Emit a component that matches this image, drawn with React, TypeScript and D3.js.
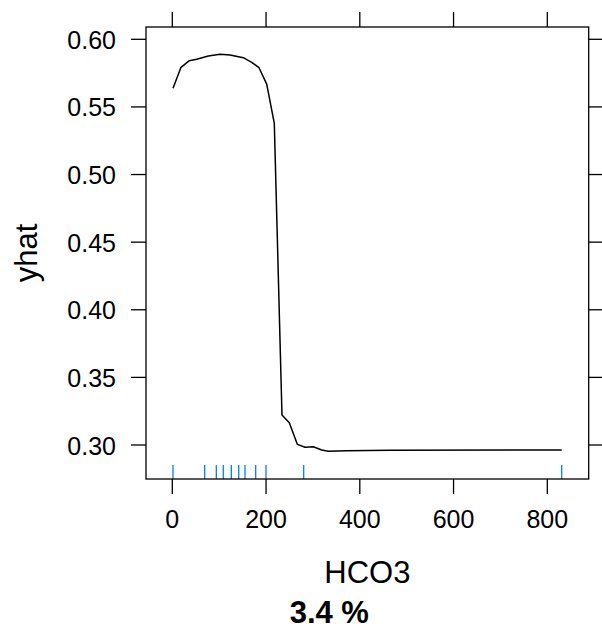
import React from "react";
import * as d3 from "d3";

const hco3 = [1.5, 18.6, 36.3, 52.1, 76.8, 101.8, 123.2, 151.5, 169.4, 185, 201.4, 217.6, 234, 249.6, 266.7, 283.1, 300.8, 318.7, 332.8, 372.1, 464.4, 830.7];
const yhat = [0.5638, 0.5793, 0.5842, 0.5852, 0.5877, 0.5889, 0.5884, 0.5864, 0.583, 0.579, 0.5669, 0.5379, 0.3222, 0.3165, 0.3005, 0.2983, 0.2987, 0.2963, 0.2953, 0.2958, 0.2961, 0.2963];
const rug = [1.5, 69.1, 93.9, 108.8, 125.9, 141.7, 155.1, 177.9, 199.9, 280.3, 830.7];
const xTicks = [0, 200, 400, 600, 800];
const yTicks = [0.3, 0.35, 0.4, 0.45, 0.5, 0.55, 0.6];
const xLabel = "HCO3";
const yLabel = "yhat";
const subTitle = "3.4 %";

export default function App() {
  const W = 602, H = 628;
  const L = 146, R = 588.7, T = 27, B = 479;
  const x = d3.scaleLinear().domain([-56.1, 888.3]).range([L, R]);
  const y = d3.scaleLinear().domain([0.27486, 0.6091]).range([B, T]);
  const pts = hco3.map((v, i) => [v, yhat[i]] as [number, number]);
  const line = d3.line<[number, number]>().x(d => x(d[0])).y(d => y(d[1]));
  const font = "Liberation Sans, Arial, Helvetica, sans-serif";
  const tk = 15;
  return (
    <svg width={W} height={H} style={{ position: "absolute", left: 0, top: 0, background: "#fff" }} fontFamily={font}>
      <rect x={0} y={0} width={W} height={H} fill="#fff" />
      {/* rug */}
      {rug.map((v, i) => (
        <line key={"r" + i} x1={x(v)} x2={x(v)} y1={B} y2={B - 14} stroke="#0080ff" strokeWidth={1.3} />
      ))}
      <path d={line(pts) || ""} fill="none" stroke="#000" strokeWidth={1.5} strokeLinejoin="round" />
      <rect x={L} y={T} width={R - L} height={B - T} fill="none" stroke="#000" strokeWidth={1.3} />
      {xTicks.map((t) => (
        <g key={"x" + t}>
          <line x1={x(t)} x2={x(t)} y1={B} y2={B + tk} stroke="#000" strokeWidth={1.3} />
          <line x1={x(t)} x2={x(t)} y1={T} y2={T - tk} stroke="#000" strokeWidth={1.3} />
          <text x={x(t)} y={528} textAnchor="middle" fontSize={25}>{t}</text>
        </g>
      ))}
      {yTicks.map((t) => (
        <g key={"y" + t}>
          <line x1={L} x2={L - tk} y1={y(t)} y2={y(t)} stroke="#000" strokeWidth={1.3} />
          <line x1={R} x2={R + tk} y1={y(t)} y2={y(t)} stroke="#000" strokeWidth={1.3} />
          <text x={116} y={y(t) + 9.5} textAnchor="end" fontSize={25}>{t.toFixed(2)}</text>
        </g>
      ))}
      <text x={(L + R) / 2} y={583} textAnchor="middle" fontSize={31}>{xLabel}</text>
      <text x={329.3} y={622.5} textAnchor="middle" fontSize={31} fontWeight="bold">{subTitle}</text>
      <text transform={`translate(37,${(T + B) / 2}) rotate(-90)`} textAnchor="middle" fontSize={31}>{yLabel}</text>
    </svg>
  );
}
